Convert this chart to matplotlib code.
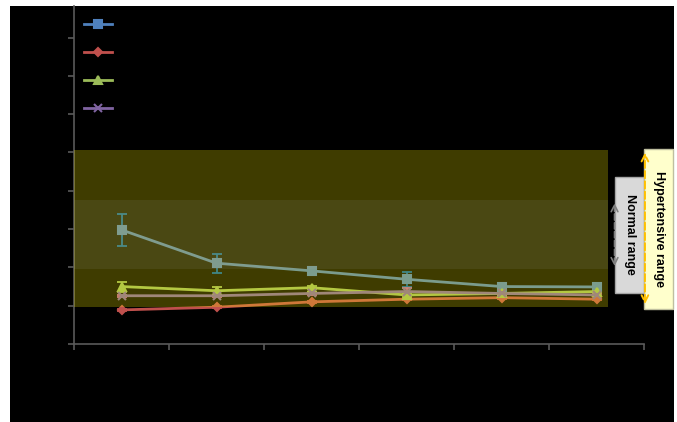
import matplotlib.pyplot as plt
from matplotlib.patches import Rectangle

# category positions (tick labels are black on black in the original, so not visible)
visits = [0, 1, 2, 3, 4, 5]

blue = [2.98, 2.11, 1.91, 1.69, 1.50, 1.49]
blue_err = [0.42, 0.25, 0.04, 0.20, 0.03, 0.03]
red = [0.89, 0.96, 1.10, 1.17, 1.21, 1.17]
red_err = [0.03, 0.03, 0.03, 0.03, 0.03, 0.03]
green = [1.50, 1.39, 1.47, 1.28, 1.32, 1.37]
green_err = [0.13, 0.10, 0.04, 0.04, 0.04, 0.04]
purple = [1.26, 1.26, 1.32, 1.37, 1.32, 1.28]
purple_err = [0.03, 0.03, 0.04, 0.09, 0.03, 0.03]

hyper_lo, hyper_hi = 0.97, 5.07
normal_lo, normal_hi = 1.96, 3.75

fig = plt.figure(figsize=(6.77, 4.22), dpi=100, facecolor="white")
# black chart area with a thin white margin
fig.patches.append(Rectangle((10 / 677, 0), 664 / 677, 416 / 422,
                             transform=fig.transFigure, facecolor="black",
                             edgecolor="none", zorder=-10))

ax = fig.add_axes([74 / 677, 78 / 422, 570 / 677, 338 / 422])
ax.set_facecolor("none")

series = [
    (blue, blue_err, "#4F81BD", "s", 6, "#0064b4"),
    (red, red_err, "#C0504D", "D", 4.5, "#C0504D"),
    (green, green_err, "#9BBB59", "^", 5.5, "#9BBB59"),
    (purple, purple_err, "#8064A2", "x", 6, "#c060a0"),
]
handles = []
for vals, err, col, mk, ms, ecol in series:
    ax.errorbar(visits, vals, yerr=err, fmt="none", ecolor=ecol,
                elinewidth=1.3, capsize=3.5, capthick=1.3, zorder=1.9)
    h, = ax.plot(visits, vals, color=col, lw=2, marker=mk, ms=ms,
                 mew=1.5, zorder=2)
    handles.append(h)

# shaded ranges drawn over the lines
ax.add_patch(Rectangle((-0.5, hyper_lo), 5.62, hyper_hi - hyper_lo,
                       facecolor="#fff000", alpha=0.25, edgecolor="none",
                       zorder=3))
ax.add_patch(Rectangle((-0.5, normal_lo), 5.62, normal_hi - normal_lo,
                       facecolor="#a0a0a0", alpha=0.12, edgecolor="none",
                       zorder=3))

# right side labels
ax.add_patch(Rectangle((5.19, 1.34), 0.31, 3.03, facecolor="#d9d9d9",
                       edgecolor="#a6a6a6", lw=1, clip_on=False, zorder=4))
ax.annotate("", xy=(5.19, normal_hi), xytext=(5.19, normal_lo),
            arrowprops=dict(arrowstyle="<->", color="#7f7f7f", lw=1.2,
                            ls="--", mutation_scale=12),
            annotation_clip=False, zorder=5)
ax.text(5.355, 2.85, "Normal range", rotation=270, ha="center", va="center",
        fontsize=9, fontweight="bold", family="Liberation Sans",
        color="black", zorder=6)

ax.add_patch(Rectangle((5.5, 0.91), 0.31, 4.17, facecolor="#ffffcc",
                       edgecolor="#bfbf9f", lw=1, clip_on=False, zorder=4))
ax.annotate("", xy=(5.51, hyper_hi), xytext=(5.51, hyper_lo),
            arrowprops=dict(arrowstyle="<->", color="#ffc000", lw=1.4,
                            ls="--", mutation_scale=12),
            annotation_clip=False, zorder=5)
ax.text(5.66, 3.0, "Hypertensive range", rotation=270, ha="center",
        va="center", fontsize=9, fontweight="bold", family="Liberation Sans",
        color="black", zorder=6)

ax.set_xlim(-0.5, 5.5)
ax.set_ylim(0, 338 / 38.3)
ax.set_xticks([-0.5, 0.5, 1.5, 2.5, 3.5, 4.5, 5.5])
ax.set_yticks(range(9))
ax.tick_params(colors="#5a5a5a", length=4, width=1.2,
               labelleft=False, labelbottom=False)
for s in ["top", "right"]:
    ax.spines[s].set_visible(False)
for s in ["left", "bottom"]:
    ax.spines[s].set_color("#5a5a5a")
    ax.spines[s].set_linewidth(1.2)

leg = ax.legend(handles, ["", "", "", ""], loc="upper left",
                bbox_to_anchor=(0.008, 0.981), frameon=False, fontsize=10,
                handlelength=2.0, labelspacing=1.0, borderaxespad=0)

fig.savefig("out.png", dpi=100, facecolor="white")
